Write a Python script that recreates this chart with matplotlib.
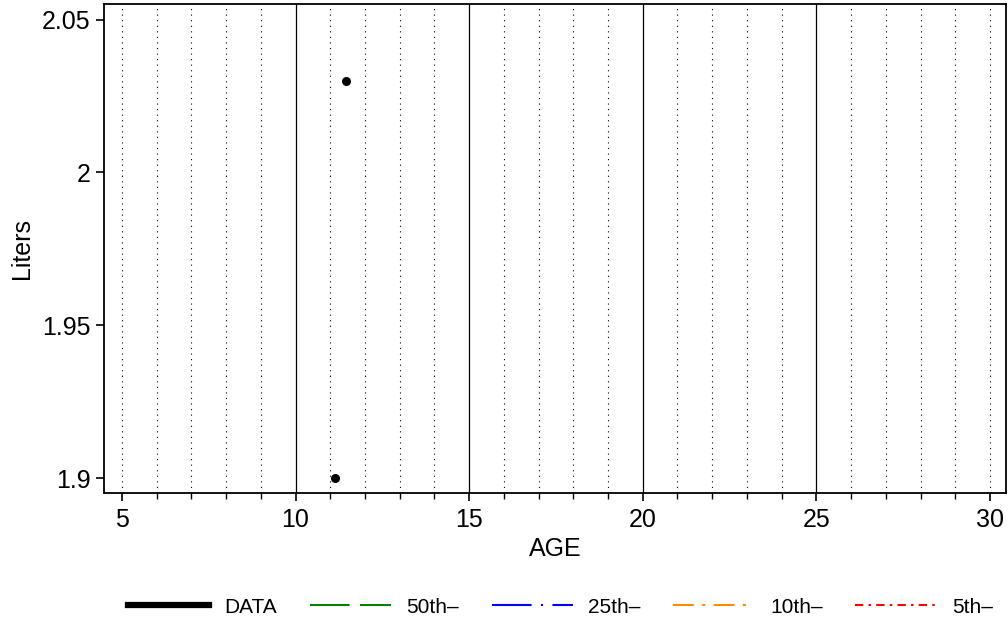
import numpy as np
import matplotlib.pyplot as plt
from matplotlib.lines import Line2D

plt.rcParams['font.family'] = ['Liberation Sans', 'DejaVu Sans']

# observed points
age = [11.15, 11.45]
liters = [1.90, 2.03]

# legend entries
series = ["DATA", "50th\u2013", "25th\u2013", "10th\u2013", "5th\u2013"]
colors = ["black", "green", "blue", "darkorange", "red"]
styles = ["-", (0, (19, 5)), (0, (19, 4.5, 1, 4.5)), (0, (10, 4, 1.5, 4)), (0, (4, 2.5, 1.2, 2.5))]
widths = [4.5, 1.5, 1.5, 1.5, 1.5]

ref_lines = [10, 15, 20, 25]

fig = plt.figure(figsize=(10.08, 6.18), dpi=100)
ax = fig.add_axes([0.103, 0.202, 0.895, 0.792])

ax.set_xlim(4.48, 30.46)
ax.set_ylim(1.8951, 2.0552)

for x in np.arange(5, 31):
    if x not in ref_lines:
        ax.axvline(x, color="black", lw=0.8, ls=(0, (1, 4)), zorder=0)
for x in ref_lines:
    ax.axvline(x, color="black", lw=0.9, zorder=1)

ax.scatter(age, liters, s=30, color="black", zorder=3)

ax.set_xticks([5, 10, 15, 20, 25, 30])
ax.set_xticks(np.arange(5, 31), minor=True)
ax.set_yticks([1.9, 1.95, 2.0, 2.05])
ax.set_yticklabels(["1.9", "1.95", "2", "2.05"])
ax.tick_params(axis="both", which="major", labelsize=18, length=6, width=1.2)
ax.tick_params(axis="x", which="major", pad=5)
ax.tick_params(axis="x", which="minor", length=4, width=1.0)
for s in ax.spines.values():
    s.set_linewidth(1.3)

ax.set_xlabel("AGE", fontsize=18, labelpad=3)
ax.set_ylabel("Liters", fontsize=18, labelpad=6)

handles = [Line2D([], [], color=c, ls=st, lw=w) for c, st, w in zip(colors, styles, widths)]
fig.legend(handles, series, loc="lower center", bbox_to_anchor=(0.556, -0.028), ncol=5,
           frameon=False, fontsize=15, handlelength=3.9, columnspacing=1.55,
           handletextpad=0.75)

fig.savefig("out.png", dpi=100)
